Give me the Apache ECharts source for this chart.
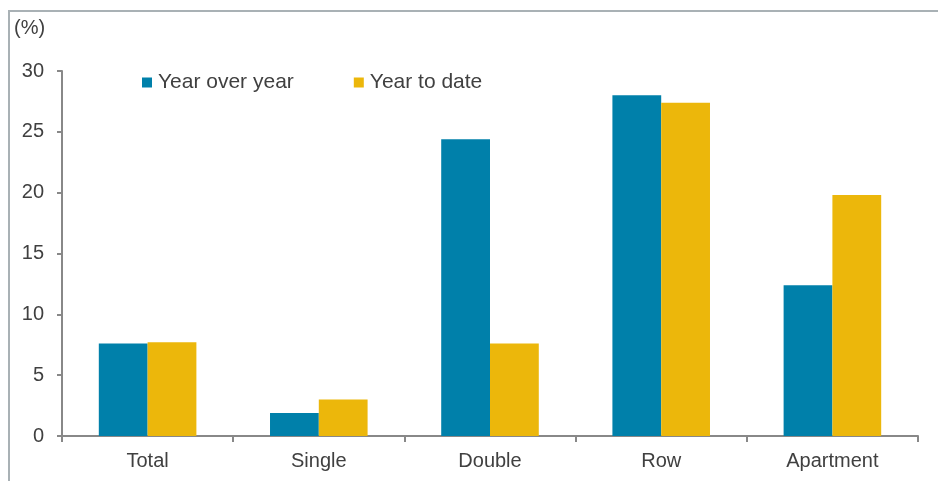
<!DOCTYPE html>
<html>
<head>
<meta charset="utf-8">
<script src="https://cdn.jsdelivr.net/npm/echarts@6/dist/echarts.min.js"></script>
<style>html,body{margin:0;padding:0;background:#fff;}#c{width:938px;height:481px;}</style>
</head>
<body>
<div id="c"></div>
<script>
const categories = ['Total', 'Single', 'Double', 'Row', 'Apartment'];
const yearOverYear = [7.6, 1.9, 24.4, 28.0, 12.4];
const yearToDate = [7.7, 3.0, 7.6, 27.4, 19.8];
const yTicks = [0, 5, 10, 15, 20, 25, 30];

const chart = echarts.init(document.getElementById('c'), null, {renderer: 'canvas'});
const font = 'Liberation Sans, Arial, sans-serif';
const txt = '#404040';
chart.setOption({
  animation: false,
  backgroundColor: '#ffffff',
  graphic: [
    {type: 'line', shape: {x1: 8, y1: 11, x2: 938, y2: 11}, style: {stroke: '#a9b1b5', lineWidth: 2}},
    {type: 'line', shape: {x1: 9, y1: 10, x2: 9, y2: 481}, style: {stroke: '#a9b1b5', lineWidth: 2}},
    {type: 'text', left: 14, top: 18, style: {text: '(%)', font: '20px ' + font, fill: txt}}
  ],
  legend: {
    left: 137, top: 67,
    itemWidth: 10, itemHeight: 10, itemGap: 60,
    icon: 'rect',
    textStyle: {fontFamily: font, fontSize: 21, color: txt, padding: [0, 0, 0, 1]},
    data: ['Year over year', 'Year to date']
  },
  grid: {left: 62, right: 20, top: 71, bottom: 45, containLabel: false},
  xAxis: {
    type: 'category', data: categories,
    axisLine: {lineStyle: {color: '#888888', width: 2}},
    axisTick: {show: true, length: 6, lineStyle: {color: '#888888', width: 2}, alignWithLabel: false},
    axisLabel: {fontFamily: font, fontSize: 20, color: txt, margin: 15}
  },
  yAxis: {
    type: 'value', min: 0, max: 30, interval: 5,
    axisLine: {show: true, lineStyle: {color: '#888888', width: 2}},
    axisTick: {show: true, length: 5, lineStyle: {color: '#888888', width: 2}},
    splitLine: {show: false},
    axisLabel: {fontFamily: font, fontSize: 20, color: txt, margin: 18,
      formatter: v => yTicks.includes(v) ? String(v) : ''}
  },
  series: [
    {name: 'Year over year', type: 'bar', data: yearOverYear, barGap: '0%', barCategoryGap: '43%',
     itemStyle: {color: '#0080aa'}},
    {name: 'Year to date', type: 'bar', data: yearToDate, barGap: '0%', barCategoryGap: '43%',
     itemStyle: {color: '#ecb70b'}}
  ]
});
</script>
</body>
</html>
